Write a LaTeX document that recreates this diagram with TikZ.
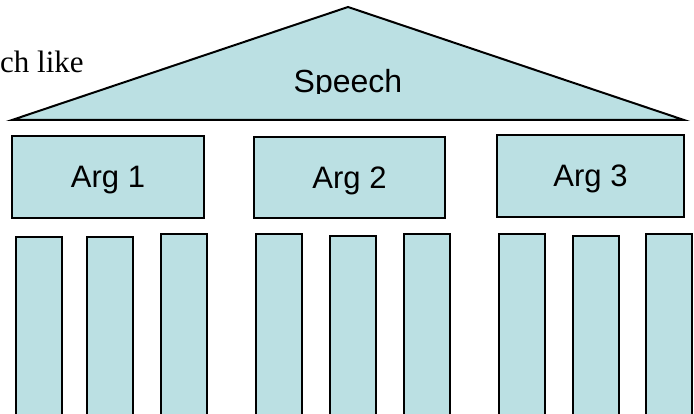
\documentclass[tikz,border=0pt]{standalone}
\usepackage{fontspec}
\setmainfont{Liberation Sans}
\newfontfamily\timesfont{Liberation Serif}
\definecolor{pptblue}{RGB}{187,224,227}
\tikzset{
  shapeline/.style={draw=black, line width=2pt, fill=pptblue},
  argbox/.style={shapeline, rectangle, inner sep=0pt, font=\fontsize{31}{36}\selectfont, text height=22pt, text depth=0pt},
  pillar/.style={shapeline, rectangle, inner sep=0pt, anchor=north west, minimum width=46pt, minimum height=220pt},
  bigtext/.style={font=\fontsize{32}{38}\selectfont, inner sep=0pt, anchor=base}
}
\begin{document}
\begin{tikzpicture}[x=1pt, y=-1pt]
\useasboundingbox (0,0) rectangle (694,414);
\clip (0,0) rectangle (694,414);
% caption fragment
\node[font=\timesfont\fontsize{31}{36}\selectfont, inner sep=0pt, anchor=base west] (cap) at (0,73) {ch like};
% roof
\coordinate (apex) at (348,7);
\coordinate (bl) at (12,120);
\coordinate (br) at (684,120);
\draw[shapeline, line join=miter] (bl) -- (apex) -- (br) -- cycle;
\begin{scope}
  \clip (0,0) rectangle (694,94);
  \node[bigtext] (speech) at (348,93) {Speech};
\end{scope}
% arguments
\node[argbox, minimum width=192pt, minimum height=82pt] (a1) at (108,177) {Arg 1};
\node[argbox, minimum width=191pt, minimum height=81pt] (a2) at (349.5,177.5) {Arg 2};
\node[argbox, minimum width=187pt, minimum height=82pt] (a3) at (590.5,176) {Arg 3};
% pillars
\node[pillar] (p1) at (15,236) {};
\node[pillar] (p2) at (86,236) {};
\node[pillar] (p3) at (160,233) {};
\node[pillar] (p4) at (255,233) {};
\node[pillar] (p5) at (329,235) {};
\node[pillar] (p6) at (403,233) {};
\node[pillar] (p7) at (498,233) {};
\node[pillar] (p8) at (572,235) {};
\node[pillar] (p9) at (645,233) {};
\end{tikzpicture}
\end{document}
